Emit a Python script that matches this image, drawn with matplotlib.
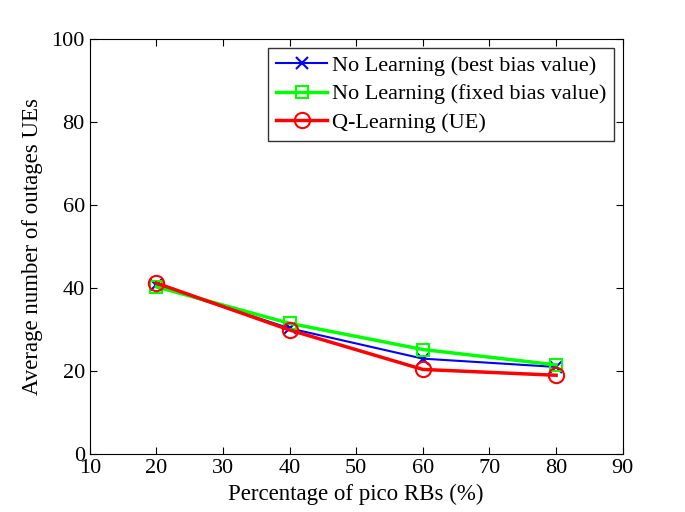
import matplotlib
matplotlib.use('Agg')
import matplotlib.pyplot as plt

plt.rcParams['font.family'] = ['Liberation Serif', 'DejaVu Serif']

# Data
pico_rbs = [20, 40, 60, 80]
best_bias = [40.7, 30.3, 23.0, 21.0]
fixed_bias = [40.3, 31.5, 25.2, 21.5]
q_learning = [41.2, 29.9, 20.4, 19.0]

fig = plt.figure(figsize=(6.85, 5.12), dpi=100)
ax = fig.add_axes([0.131, 0.113, 0.778, 0.811])

ax.plot(pico_rbs, best_bias, color='#0000ff', marker='x', markersize=8,
        markeredgewidth=1.5, linewidth=1.5, label='No Learning (best bias value)')
ax.plot(pico_rbs, fixed_bias, color='#00ff00', marker='s', markersize=9,
        markerfacecolor='none', markeredgewidth=1.5, linewidth=2.5,
        label='No Learning (fixed bias value)')
ax.plot(pico_rbs, q_learning, color='#ff0000', marker='o', markersize=11,
        markerfacecolor='none', markeredgewidth=1.5, linewidth=2.5,
        label='Q-Learning (UE)')

ax.set_xlim(10, 90)
ax.set_ylim(0, 100)
ax.set_xticks(range(10, 91, 10))
ax.set_yticks(range(0, 101, 20))
ax.tick_params(direction='in', labelsize=16, length=5, top=True, right=True)
ax.set_xlabel('Percentage of pico RBs (%)', fontsize=16.5)
ax.set_ylabel('Average number of outages UEs', fontsize=16.5, labelpad=6)

leg = ax.legend(loc='upper right', fontsize=16, frameon=True, fancybox=False,
                edgecolor='black', borderaxespad=0.4, handlelength=2.3,
                handletextpad=0.2, borderpad=0.35, labelspacing=0.35)
leg.get_frame().set_linewidth(1.0)

fig.savefig('out.png', dpi=100, facecolor='white')
